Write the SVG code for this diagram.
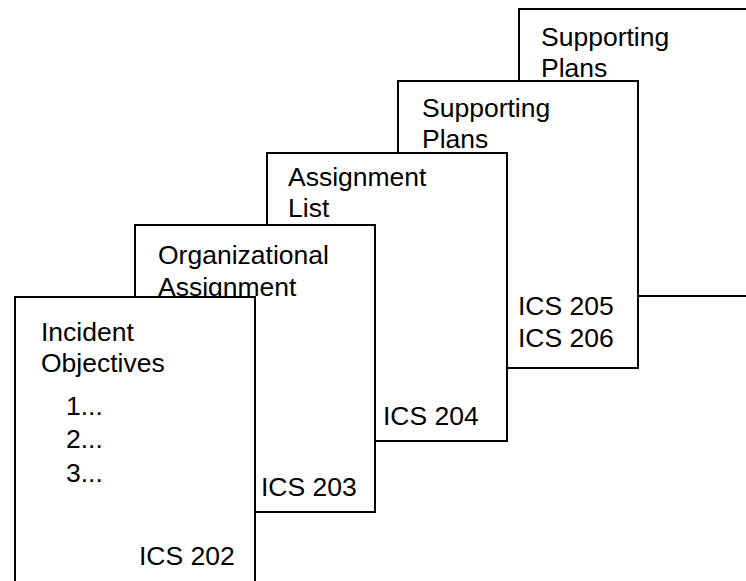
<svg xmlns="http://www.w3.org/2000/svg" width="746" height="581" viewBox="0 0 746 581">
<style>
.page{fill:#fff;stroke:#000;stroke-width:2}
text{font-family:"Liberation Sans",Arial,sans-serif;font-size:26.5px;fill:#000}
</style>
<rect width="746" height="581" fill="#fff"/>
<g id="page-plans-back">
<rect class="page" x="519" y="9" width="240" height="287"/>
<text x="541" y="46">Supporting</text>
<text x="541" y="77">Plans</text>
</g>
<g id="page-plans-front">
<rect class="page" x="398" y="81" width="240" height="287"/>
<text x="422" y="117">Supporting</text>
<text x="422" y="148">Plans</text>
<text x="518" y="315">ICS 205</text>
<text x="518" y="347">ICS 206</text>
</g>
<g id="page-assignment-list">
<rect class="page" x="267" y="153" width="240" height="288"/>
<text x="288" y="186">Assignment</text>
<text x="288" y="217">List</text>
<text x="383" y="425">ICS 204</text>
</g>
<g id="page-org-assignment">
<rect class="page" x="135" y="225" width="240" height="287"/>
<text x="158" y="264">Organizational</text>
<text x="158" y="296">Assignment</text>
<text x="261" y="496">ICS 203</text>
</g>
<g id="page-incident-objectives">
<rect class="page" x="15" y="297" width="240" height="300"/>
<text x="41" y="341">Incident</text>
<text x="41" y="372">Objectives</text>
<text x="66" y="415">1...</text>
<text x="66" y="448">2...</text>
<text x="66" y="482">3...</text>
<text x="139" y="565">ICS 202</text>
</g>
<g id="connectors"></g>
</svg>
